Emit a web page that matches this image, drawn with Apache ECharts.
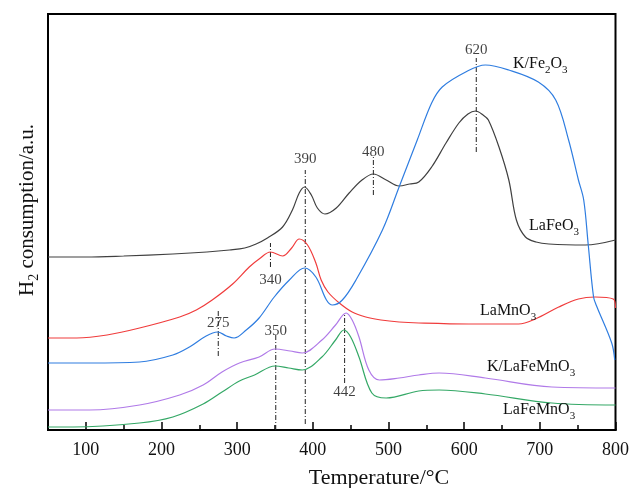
<!DOCTYPE html>
<html>
<head>
<meta charset="utf-8">
<script src="https://cdn.jsdelivr.net/npm/echarts@6/dist/echarts.min.js"></script>
<style>html,body{margin:0;padding:0;background:#fff}#c{width:632px;height:488px}</style>
</head>
<body>
<div id="c"></div>
<script>
// ---- data (temperature in °C, signal in arbitrary units) ----
const laFeO3_T = [50,100,150,215,260,290,310,325,340,360,373,382,389,398,406,416,431,448,465,480,497,514,528,540,557,576,593,605,615,625,632,646,659,669,681,695,712,760,800];
const laFeO3_V = [173,173,174,176,178,180,182,186,192,203,220,237,243,235,222,216,222,237,250,256,250,244,246,248,263,287,307,316,319,315,310,283,250,210,193,188,186,185,190];

const laMnO3_T = [50,88,128,171,224,246,267,294,316,329,344,360,372,382,393,404,411,420,435,452,470,490,514,540,606,672,694,725,751,773,797,800];
const laMnO3_V = [92,92,95,102,113,120,130,146,163,171,178,174,182,191,185,167,150,138,127,118,113,110,108,107,106,106,111,123,131,133,131,122];

const kFe2O3_T = [50,105,171,215,237,259,274,286,296,312,329,349,369,389,404,418,426,439,457,492,514,538,557,571,602,628,659,698,721,738,751,758,764,771,775,795,799];
const kFe2O3_V = [67,67,68,75,83,94,98,94,92,100,112,133,150,162,153,130,125,130,150,200,243,290,327,343,358,365,360,348,330,290,250,230,185,133,124,87,70];

const kLaFeMnO3_T = [50,105,171,224,255,280,303,329,350,370,386,412,430,444,452,461,474,488,514,540,567,628,716,800];
const kLaFeMnO3_V = [20,20,25,35,45,58,67,73,81,79,77,90,105,117,110,93,60,50,52,55,57,52,43,42];

const laFeMnO3_T = [50,83,171,215,255,280,303,323,350,368,386,412,430,441,450,461,478,497,540,567,628,716,800];
const laFeMnO3_V = [3,3,7,13,26,38,49,55,64,62,60,73,90,100,93,73,37,32,39,40,36,27,25];

// peak markers
const peakLabels = ['275','340','390','480','620','350','442'];
const peakT      = [275, 344, 390, 480, 616, 351, 442];
const peakLow    = [74, 163, 6, 235, 278, 0, 47];
const peakHigh   = [121, 187, 260, 273, 372, 95, 117];
const peakLabelV = [107, 150, 271, 278, 380, 99, 38];

const xTicks = [100,200,300,400,500,600,700,800];
const xMinorTicks = [150,250,350,450,550,650,750];

const FONT = '"Liberation Serif", "Times New Roman", serif';
const zip = (a, b) => a.map((t, i) => [t, b[i]]);

const curves = [
  {name:'LaFeO3', T:laFeO3_T, V:laFeO3_V, color:'#404040'},
  {name:'LaMnO3', T:laMnO3_T, V:laMnO3_V, color:'#f03c3c'},
  {name:'K/Fe2O3', T:kFe2O3_T, V:kFe2O3_V, color:'#2f7de0'},
  {name:'K/LaFeMnO3', T:kLaFeMnO3_T, V:kLaFeMnO3_V, color:'#b07ae8'},
  {name:'LaFeMnO3', T:laFeMnO3_T, V:laFeMnO3_V, color:'#34a866'}
];

const series = curves.map(c => ({
  name: c.name, type: 'line', data: zip(c.T, c.V), smooth: 0.35,
  showSymbol: false, lineStyle: {color: c.color, width: 1.2}, z: 3, silent: true
}));

peakT.forEach((t, i) => {
  series.push({
    type: 'line', data: [[t, peakLow[i]], [t, peakHigh[i]]], showSymbol: false, silent: true,
    lineStyle: {color: '#222', width: 1, type: [5, 2, 1, 2]}, z: 2
  });
});

series.push({
  type: 'scatter', symbolSize: 0, silent: true, z: 5,
  data: peakT.map((t, i) => ({value: [t, peakLabelV[i]], name: peakLabels[i]})),
  label: {show: true, position: 'inside', formatter: p => p.name,
          fontFamily: FONT, fontSize: 15, color: '#111'}
});

const sub = (x, y, parts, size) => ({
  type: 'text', x: x, y: y, z: 10,
  style: {
    text: parts,
    verticalAlign: 'middle', align: 'left',
    rich: {
      n: {fontFamily: FONT, fontSize: size, lineHeight: 24, fill: '#111', verticalAlign: 'middle'},
      s: {fontFamily: FONT, fontSize: Math.round(size * 0.7), lineHeight: 12, fill: '#111', verticalAlign: 'bottom'}
    }
  }
});

const option = {
  animation: false,
  grid: {left: 48, top: 14, width: 569, height: 416, show: true, borderColor: '#000', borderWidth: 2, backgroundColor: 'transparent'},
  xAxis: [{
    type: 'value', min: 50, max: 800,
    axisLine: {show: true, onZero: false, lineStyle: {color: '#000', width: 2}},
    axisTick: {show: true, inside: true, length: 8, customValues: xTicks, lineStyle: {color: '#000', width: 1.5}},
    axisLabel: {show: true, customValues: xTicks, margin: 11, fontFamily: FONT, fontSize: 18, color: '#111'},
    splitLine: {show: false}
  }, {
    type: 'value', min: 50, max: 800, gridIndex: 0, position: 'bottom', offset: 0,
    axisLine: {show: true, onZero: false, lineStyle: {color: '#000', width: 2}},
    axisTick: {show: true, inside: true, length: 5, customValues: xMinorTicks, lineStyle: {color: '#000', width: 1.5}},
    axisLabel: {show: true, customValues: xMinorTicks, formatter: () => '', fontSize: 1},
    splitLine: {show: false}
  }],
  yAxis: {type: 'value', min: 0, max: 416, show: false},
  series: series,
  graphic: [
    sub(513, 64, '{n|K/Fe}{s|2}{n|O}{s|3}', 16),
    sub(529, 226, '{n|LaFeO}{s|3}', 16),
    sub(480, 311, '{n|LaMnO}{s|3}', 16),
    sub(487, 367, '{n|K/LaFeMnO}{s|3}', 16),
    sub(503, 410, '{n|LaFeMnO}{s|3}', 16),
    {type: 'text', x: 379, y: 478, z: 10, style: {text: 'Temperature/°C', fontFamily: FONT, fontSize: 22, fill: '#111', align: 'center', verticalAlign: 'middle'}},
    {type: 'text', x: 27, y: 210, rotation: Math.PI / 2, z: 10, style: {
      text: '{n|H}{s|2}{n| consumption/a.u.}', align: 'center', verticalAlign: 'middle',
      rich: {
        n: {fontFamily: FONT, fontSize: 21, lineHeight: 28, fill: '#111', verticalAlign: 'middle'},
        s: {fontFamily: FONT, fontSize: 14, lineHeight: 14, fill: '#111', verticalAlign: 'bottom'}
      }
    }}
  ]
};
const chart = echarts.init(document.getElementById('c'), null, {renderer: 'canvas'});
chart.setOption(option);
</script>
</body>
</html>
